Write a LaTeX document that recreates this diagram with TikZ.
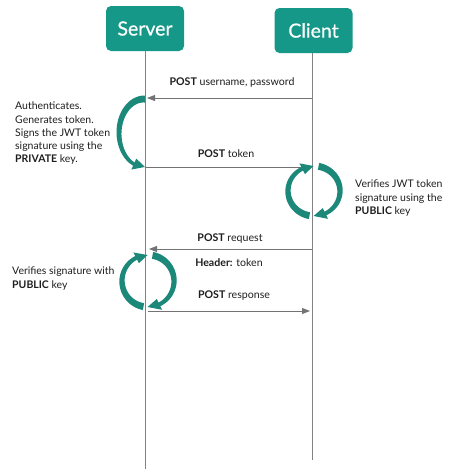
\documentclass[tikz,border=0pt]{standalone}
\usepackage{fontspec}
\setmainfont{Lato}
\newfontfamily\titlefont[FakeBold=0.6]{Lato}
\usetikzlibrary{arrows.meta}
\definecolor{boxteal}{RGB}{22,152,136}
\definecolor{arrteal}{RGB}{28,136,122}
\definecolor{lifegray}{RGB}{130,130,130}
\definecolor{msggray}{RGB}{115,115,115}
\definecolor{txt}{RGB}{30,30,30}
\tikzset{
  actor/.style={fill=boxteal, rounded corners=5pt, text=white, minimum width=78pt, minimum height=45pt, inner sep=0pt, font=\titlefont\fontsize{19.5}{22}\selectfont},
  lifeline/.style={draw=lifegray, line width=1pt},
  msg/.style={draw=msggray, line width=0.9pt, -{Triangle[length=8pt,width=6pt]}},
  lbl/.style={text=txt, inner sep=0pt, font=\fontsize{10.6}{13.25}\selectfont},
  note/.style={text=txt, inner sep=0pt, align=left, font=\fontsize{10.5}{13.25}\selectfont},
}
\def\hw{6}
% curved tapered arrow: cx, cy, rx, ry, a1, a2, w1, w2, tip delta
\newcommand{\curvarrow}[9]{%
  \fill[arrteal]
    plot[domain=#5:#6, samples=40, variable=\t]
      ({#1+(#3+(#7+(#8-#7)*(\t-#5)/(#6-#5))/2)*cos(\t)}, {#2+(#4+(#7+(#8-#7)*(\t-#5)/(#6-#5))/2)*sin(\t)})
    -- ({#1+(#3+\hw)*cos(#6)}, {#2+(#4+\hw)*sin(#6)})
    -- ({#1+#3*cos(#6+#9)}, {#2+#4*sin(#6+#9)})
    -- ({#1+(#3-\hw)*cos(#6)}, {#2+(#4-\hw)*sin(#6)})
    -- plot[domain=#6:#5, samples=40, variable=\t]
      ({#1+(#3-(#7+(#8-#7)*(\t-#5)/(#6-#5))/2)*cos(\t)}, {#2+(#4-(#7+(#8-#7)*(\t-#5)/(#6-#5))/2)*sin(\t)})
    -- cycle;}
\begin{document}
\begin{tikzpicture}[x=1pt, y=-1pt]
\useasboundingbox (0,0) rectangle (459,474);
% actors
\node[actor] (server) at (145,28.5) {Server};
\node[actor] (client) at (313.5,30.5) {Client};
% lifelines
\coordinate (sEnd) at (145,469);
\coordinate (cEnd) at (312,460);
\draw[lifeline] (server.south -| sEnd) -- (sEnd);
\draw[lifeline] (client.south -| cEnd) -- (cEnd);
% message points
\coordinate (c1) at (312,98);   \coordinate (s1) at (147,98);
\coordinate (s2) at (145,167);  \coordinate (c2) at (310,167);
\coordinate (c3) at (312,249);  \coordinate (s3) at (149,249);
\coordinate (s4) at (148,311);  \coordinate (c4) at (310,311);
\draw[msg] (c1) -- (s1);
\draw[msg] (s2) -- (c2);
\draw[msg] (c3) -- (s3);
\draw[msg] (s4) -- (c4);
% message labels
\node[lbl, anchor=base] (l1) at (232,85) {\textbf{POST} username, password};
\node[lbl, anchor=base] (l2) at (226,157) {\textbf{POST} token};
\node[lbl, anchor=base] (l3) at (230,241) {\textbf{POST} request};
\node[lbl, anchor=base] (l4) at (229,266) {\textbf{Header:} token};
\node[lbl, anchor=base] (l5) at (234,298) {\textbf{POST} response};
% curved arrows
\curvarrow{144}{133}{25}{34}{-88}{-246}{7}{3.5}{-26}
\curvarrow{314}{191}{26}{25}{-80}{64}{7}{4}{27}
\curvarrow{314}{191}{26}{25}{100}{243}{7}{4}{26}
\curvarrow{148}{281}{26}{26}{-80}{64}{7}{4}{27}
\curvarrow{148}{281}{26}{26}{100}{243}{7}{4}{26}
% notes
\node[note, anchor=north west] (n1) at (15,102) {Authenticates.\\Generates token.\\Signs the JWT token\\signature using the\\\textbf{PRIVATE} key.};
\node[note, anchor=north west] (n2) at (355,180) {Verifies JWT token\\signature using the\\\textbf{PUBLIC} key};
\node[note, anchor=north west] (n3) at (12,267) {Verifies signature with\\\textbf{PUBLIC} key};
\end{tikzpicture}
\end{document}
